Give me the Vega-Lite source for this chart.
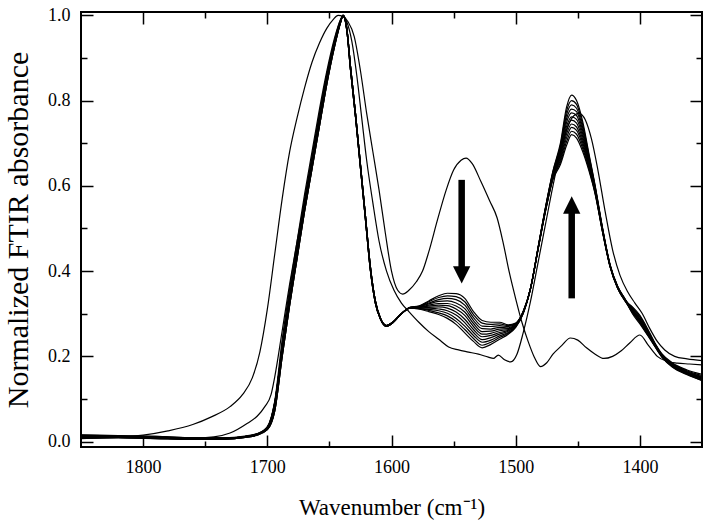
{
"$schema": "https://vega.github.io/schema/vega-lite/v6.json",
"width": 621, "height": 435,
"autosize": "none",
"padding": {"left": 81, "top": 12, "right": 12, "bottom": 81},
"background": "white",
"config": {
 "font": "'Liberation Serif', 'Times New Roman', serif",
 "view": {"stroke": "black", "strokeWidth": 2},
 "axis": {"grid": false, "domain": false, "tickColor": "black", "tickWidth": 1.5, "labelFont": "'Liberation Serif', 'Times New Roman', serif", "titleFont": "'Liberation Serif', 'Times New Roman', serif", "labelFontSize": 18, "labelColor": "black", "titleFontSize": 23, "titleFontWeight": "normal", "titleColor": "black", "labelOverlap": false, "labelFlush": false}
},
"datasets": {
"bundle": [
{"c":"k0","w":1850,"a":0.014},{"c":"k0","w":1820,"a":0.013},{"c":"k0","w":1790,"a":0.011},{"c":"k0","w":1760,"a":0.008},{"c":"k0","w":1735,"a":0.008},{"c":"k0","w":1718,"a":0.012},{"c":"k0","w":1708,"a":0.018},{"c":"k0","w":1700,"a":0.035},{"c":"k0","w":1694,"a":0.095},{"c":"k0","w":1688,"a":0.24},{"c":"k0","w":1682,"a":0.36},{"c":"k0","w":1676,"a":0.47},{"c":"k0","w":1670,"a":0.58},{"c":"k0","w":1664,"a":0.68},{"c":"k0","w":1658,"a":0.78},{"c":"k0","w":1652,"a":0.87},{"c":"k0","w":1646,"a":0.945},{"c":"k0","w":1641,"a":0.99},{"c":"k0","w":1639,"a":1.0},{"c":"k0","w":1636,"a":0.97},{"c":"k0","w":1633,"a":0.88},{"c":"k0","w":1629,"a":0.77},{"c":"k0","w":1625,"a":0.65},{"c":"k0","w":1621,"a":0.53},{"c":"k0","w":1617,"a":0.41},{"c":"k0","w":1613,"a":0.33},{"c":"k0","w":1609,"a":0.29},{"c":"k0","w":1604,"a":0.272},{"c":"k0","w":1599,"a":0.28},{"c":"k0","w":1592,"a":0.30},
{"c":"k0","w":1585,"a":0.315},{"c":"k0","w":1578,"a":0.318},{"c":"k0","w":1570,"a":0.330},{"c":"k0","w":1562,"a":0.342},{"c":"k0","w":1555,"a":0.348},{"c":"k0","w":1548,"a":0.347},{"c":"k0","w":1541,"a":0.336},{"c":"k0","w":1534,"a":0.305},{"c":"k0","w":1527,"a":0.284},{"c":"k0","w":1520,"a":0.280},{"c":"k0","w":1513,"a":0.280},{"c":"k0","w":1506,"a":0.274},{"c":"k0","w":1500,"a":0.278},{"c":"k0","w":1494,"a":0.305},{"c":"k0","w":1488,"a":0.360},{"c":"k0","w":1482,"a":0.450},{"c":"k0","w":1476,"a":0.540},{"c":"k0","w":1470,"a":0.615},{"c":"k0","w":1464,"a":0.650},{"c":"k0","w":1459,"a":0.695},{"c":"k0","w":1455,"a":0.720},{"c":"k0","w":1451,"a":0.712},{"c":"k0","w":1446,"a":0.680},{"c":"k0","w":1441,"a":0.635},{"c":"k0","w":1436,"a":0.580},{"c":"k0","w":1430,"a":0.490},{"c":"k0","w":1424,"a":0.410},{"c":"k0","w":1418,"a":0.360},{"c":"k0","w":1412,"a":0.330},{"c":"k0","w":1406,"a":0.316},{"c":"k0","w":1400,"a":0.296},{"c":"k0","w":1394,"a":0.266},{"c":"k0","w":1388,"a":0.232},{"c":"k0","w":1382,"a":0.205},{"c":"k0","w":1374,"a":0.185},{"c":"k0","w":1362,"a":0.168},{"c":"k0","w":1350,"a":0.158},
{"c":"k1","w":1850,"a":0.009},{"c":"k1","w":1820,"a":0.010},{"c":"k1","w":1790,"a":0.008},{"c":"k1","w":1760,"a":0.006},{"c":"k1","w":1735,"a":0.006},{"c":"k1","w":1718,"a":0.010},{"c":"k1","w":1708,"a":0.016},{"c":"k1","w":1700,"a":0.032},{"c":"k1","w":1694,"a":0.088},{"c":"k1","w":1688,"a":0.225},{"c":"k1","w":1682,"a":0.345},{"c":"k1","w":1676,"a":0.455},{"c":"k1","w":1670,"a":0.565},{"c":"k1","w":1664,"a":0.665},{"c":"k1","w":1658,"a":0.765},{"c":"k1","w":1652,"a":0.86},{"c":"k1","w":1646,"a":0.937},{"c":"k1","w":1641,"a":0.987},{"c":"k1","w":1639,"a":1.0},{"c":"k1","w":1636,"a":0.965},{"c":"k1","w":1633,"a":0.872},{"c":"k1","w":1629,"a":0.762},{"c":"k1","w":1625,"a":0.642},{"c":"k1","w":1621,"a":0.522},{"c":"k1","w":1617,"a":0.402},{"c":"k1","w":1613,"a":0.325},{"c":"k1","w":1609,"a":0.288},{"c":"k1","w":1604,"a":0.27},{"c":"k1","w":1599,"a":0.279},{"c":"k1","w":1592,"a":0.30},
{"c":"k1","w":1585,"a":0.315},{"c":"k1","w":1578,"a":0.317},{"c":"k1","w":1570,"a":0.328},{"c":"k1","w":1562,"a":0.338},{"c":"k1","w":1555,"a":0.342},{"c":"k1","w":1548,"a":0.340},{"c":"k1","w":1541,"a":0.328},{"c":"k1","w":1534,"a":0.298},{"c":"k1","w":1527,"a":0.278},{"c":"k1","w":1520,"a":0.275},{"c":"k1","w":1513,"a":0.276},{"c":"k1","w":1506,"a":0.272},{"c":"k1","w":1500,"a":0.277},{"c":"k1","w":1494,"a":0.305},{"c":"k1","w":1488,"a":0.36},{"c":"k1","w":1482,"a":0.451},{"c":"k1","w":1476,"a":0.541},{"c":"k1","w":1470,"a":0.617},{"c":"k1","w":1464,"a":0.655},{"c":"k1","w":1459,"a":0.704},{"c":"k1","w":1455,"a":0.728},{"c":"k1","w":1451,"a":0.721},{"c":"k1","w":1446,"a":0.687},{"c":"k1","w":1441,"a":0.639},{"c":"k1","w":1436,"a":0.582},{"c":"k1","w":1430,"a":0.491},{"c":"k1","w":1424,"a":0.410},{"c":"k1","w":1418,"a":0.360},{"c":"k1","w":1412,"a":0.330},{"c":"k1","w":1406,"a":0.306},{"c":"k1","w":1400,"a":0.285},{"c":"k1","w":1394,"a":0.257},{"c":"k1","w":1388,"a":0.226},{"c":"k1","w":1382,"a":0.200},{"c":"k1","w":1374,"a":0.180},{"c":"k1","w":1362,"a":0.162},{"c":"k1","w":1350,"a":0.151},
{"c":"k2","w":1850,"a":0.016},{"c":"k2","w":1820,"a":0.014},{"c":"k2","w":1790,"a":0.012},{"c":"k2","w":1760,"a":0.009},{"c":"k2","w":1735,"a":0.009},{"c":"k2","w":1718,"a":0.013},{"c":"k2","w":1708,"a":0.019},{"c":"k2","w":1700,"a":0.033},{"c":"k2","w":1694,"a":0.092},{"c":"k2","w":1688,"a":0.222},{"c":"k2","w":1682,"a":0.342},{"c":"k2","w":1676,"a":0.452},{"c":"k2","w":1670,"a":0.562},{"c":"k2","w":1664,"a":0.662},{"c":"k2","w":1658,"a":0.762},{"c":"k2","w":1652,"a":0.862},{"c":"k2","w":1646,"a":0.935},{"c":"k2","w":1641,"a":0.985},{"c":"k2","w":1639,"a":1.0},{"c":"k2","w":1636,"a":0.97},{"c":"k2","w":1633,"a":0.88},{"c":"k2","w":1629,"a":0.77},{"c":"k2","w":1625,"a":0.65},{"c":"k2","w":1621,"a":0.53},{"c":"k2","w":1617,"a":0.41},{"c":"k2","w":1613,"a":0.33},{"c":"k2","w":1609,"a":0.29},{"c":"k2","w":1604,"a":0.272},{"c":"k2","w":1599,"a":0.28},{"c":"k2","w":1592,"a":0.30},
{"c":"k2","w":1585,"a":0.315},{"c":"k2","w":1578,"a":0.317},{"c":"k2","w":1570,"a":0.325},{"c":"k2","w":1562,"a":0.333},{"c":"k2","w":1555,"a":0.336},{"c":"k2","w":1548,"a":0.333},{"c":"k2","w":1541,"a":0.320},{"c":"k2","w":1534,"a":0.291},{"c":"k2","w":1527,"a":0.271},{"c":"k2","w":1520,"a":0.270},{"c":"k2","w":1513,"a":0.272},{"c":"k2","w":1506,"a":0.270},{"c":"k2","w":1500,"a":0.276},{"c":"k2","w":1494,"a":0.304},{"c":"k2","w":1488,"a":0.36},{"c":"k2","w":1482,"a":0.451},{"c":"k2","w":1476,"a":0.542},{"c":"k2","w":1470,"a":0.619},{"c":"k2","w":1464,"a":0.660},{"c":"k2","w":1459,"a":0.713},{"c":"k2","w":1455,"a":0.737},{"c":"k2","w":1451,"a":0.730},{"c":"k2","w":1446,"a":0.694},{"c":"k2","w":1441,"a":0.643},{"c":"k2","w":1436,"a":0.584},{"c":"k2","w":1430,"a":0.492},{"c":"k2","w":1424,"a":0.411},{"c":"k2","w":1418,"a":0.361},{"c":"k2","w":1412,"a":0.331},{"c":"k2","w":1406,"a":0.312},{"c":"k2","w":1400,"a":0.292},{"c":"k2","w":1394,"a":0.262},{"c":"k2","w":1388,"a":0.229},{"c":"k2","w":1382,"a":0.203},{"c":"k2","w":1374,"a":0.183},{"c":"k2","w":1362,"a":0.166},{"c":"k2","w":1350,"a":0.155},
{"c":"k3","w":1850,"a":0.011},{"c":"k3","w":1820,"a":0.011},{"c":"k3","w":1790,"a":0.009},{"c":"k3","w":1760,"a":0.007},{"c":"k3","w":1735,"a":0.007},{"c":"k3","w":1718,"a":0.011},{"c":"k3","w":1708,"a":0.017},{"c":"k3","w":1700,"a":0.033},{"c":"k3","w":1694,"a":0.092},{"c":"k3","w":1688,"a":0.222},{"c":"k3","w":1682,"a":0.342},{"c":"k3","w":1676,"a":0.452},{"c":"k3","w":1670,"a":0.562},{"c":"k3","w":1664,"a":0.662},{"c":"k3","w":1658,"a":0.762},{"c":"k3","w":1652,"a":0.862},{"c":"k3","w":1646,"a":0.935},{"c":"k3","w":1641,"a":0.985},{"c":"k3","w":1639,"a":1.0},{"c":"k3","w":1636,"a":0.965},{"c":"k3","w":1633,"a":0.872},{"c":"k3","w":1629,"a":0.762},{"c":"k3","w":1625,"a":0.642},{"c":"k3","w":1621,"a":0.522},{"c":"k3","w":1617,"a":0.402},{"c":"k3","w":1613,"a":0.325},{"c":"k3","w":1609,"a":0.288},{"c":"k3","w":1604,"a":0.27},{"c":"k3","w":1599,"a":0.279},{"c":"k3","w":1592,"a":0.30},
{"c":"k3","w":1585,"a":0.314},{"c":"k3","w":1578,"a":0.316},{"c":"k3","w":1570,"a":0.323},{"c":"k3","w":1562,"a":0.329},{"c":"k3","w":1555,"a":0.330},{"c":"k3","w":1548,"a":0.325},{"c":"k3","w":1541,"a":0.312},{"c":"k3","w":1534,"a":0.284},{"c":"k3","w":1527,"a":0.265},{"c":"k3","w":1520,"a":0.264},{"c":"k3","w":1513,"a":0.268},{"c":"k3","w":1506,"a":0.267},{"c":"k3","w":1500,"a":0.275},{"c":"k3","w":1494,"a":0.304},{"c":"k3","w":1488,"a":0.36},{"c":"k3","w":1482,"a":0.452},{"c":"k3","w":1476,"a":0.543},{"c":"k3","w":1470,"a":0.621},{"c":"k3","w":1464,"a":0.665},{"c":"k3","w":1459,"a":0.722},{"c":"k3","w":1455,"a":0.745},{"c":"k3","w":1451,"a":0.738},{"c":"k3","w":1446,"a":0.701},{"c":"k3","w":1441,"a":0.647},{"c":"k3","w":1436,"a":0.586},{"c":"k3","w":1430,"a":0.493},{"c":"k3","w":1424,"a":0.411},{"c":"k3","w":1418,"a":0.361},{"c":"k3","w":1412,"a":0.331},{"c":"k3","w":1406,"a":0.302},{"c":"k3","w":1400,"a":0.281},{"c":"k3","w":1394,"a":0.254},{"c":"k3","w":1388,"a":0.224},{"c":"k3","w":1382,"a":0.199},{"c":"k3","w":1374,"a":0.178},{"c":"k3","w":1362,"a":0.160},{"c":"k3","w":1350,"a":0.148},
{"c":"k4","w":1850,"a":0.013},{"c":"k4","w":1820,"a":0.012},{"c":"k4","w":1790,"a":0.010},{"c":"k4","w":1760,"a":0.008},{"c":"k4","w":1735,"a":0.008},{"c":"k4","w":1718,"a":0.012},{"c":"k4","w":1708,"a":0.018},{"c":"k4","w":1700,"a":0.033},{"c":"k4","w":1694,"a":0.092},{"c":"k4","w":1688,"a":0.222},{"c":"k4","w":1682,"a":0.342},{"c":"k4","w":1676,"a":0.452},{"c":"k4","w":1670,"a":0.562},{"c":"k4","w":1664,"a":0.662},{"c":"k4","w":1658,"a":0.762},{"c":"k4","w":1652,"a":0.862},{"c":"k4","w":1646,"a":0.935},{"c":"k4","w":1641,"a":0.985},{"c":"k4","w":1639,"a":1.0},{"c":"k4","w":1636,"a":0.97},{"c":"k4","w":1633,"a":0.88},{"c":"k4","w":1629,"a":0.77},{"c":"k4","w":1625,"a":0.65},{"c":"k4","w":1621,"a":0.53},{"c":"k4","w":1617,"a":0.41},{"c":"k4","w":1613,"a":0.33},{"c":"k4","w":1609,"a":0.29},{"c":"k4","w":1604,"a":0.272},{"c":"k4","w":1599,"a":0.28},{"c":"k4","w":1592,"a":0.30},
{"c":"k4","w":1585,"a":0.314},{"c":"k4","w":1578,"a":0.315},{"c":"k4","w":1570,"a":0.320},{"c":"k4","w":1562,"a":0.324},{"c":"k4","w":1555,"a":0.324},{"c":"k4","w":1548,"a":0.318},{"c":"k4","w":1541,"a":0.304},{"c":"k4","w":1534,"a":0.277},{"c":"k4","w":1527,"a":0.258},{"c":"k4","w":1520,"a":0.259},{"c":"k4","w":1513,"a":0.264},{"c":"k4","w":1506,"a":0.265},{"c":"k4","w":1500,"a":0.274},{"c":"k4","w":1494,"a":0.303},{"c":"k4","w":1488,"a":0.36},{"c":"k4","w":1482,"a":0.452},{"c":"k4","w":1476,"a":0.544},{"c":"k4","w":1470,"a":0.623},{"c":"k4","w":1464,"a":0.670},{"c":"k4","w":1459,"a":0.731},{"c":"k4","w":1455,"a":0.754},{"c":"k4","w":1451,"a":0.747},{"c":"k4","w":1446,"a":0.708},{"c":"k4","w":1441,"a":0.651},{"c":"k4","w":1436,"a":0.588},{"c":"k4","w":1430,"a":0.494},{"c":"k4","w":1424,"a":0.412},{"c":"k4","w":1418,"a":0.362},{"c":"k4","w":1412,"a":0.332},{"c":"k4","w":1406,"a":0.310},{"c":"k4","w":1400,"a":0.288},{"c":"k4","w":1394,"a":0.260},{"c":"k4","w":1388,"a":0.230},{"c":"k4","w":1382,"a":0.202},{"c":"k4","w":1374,"a":0.182},{"c":"k4","w":1362,"a":0.164},{"c":"k4","w":1350,"a":0.153},
{"c":"k5","w":1850,"a":0.008},{"c":"k5","w":1820,"a":0.009},{"c":"k5","w":1790,"a":0.007},{"c":"k5","w":1760,"a":0.006},{"c":"k5","w":1735,"a":0.006},{"c":"k5","w":1718,"a":0.010},{"c":"k5","w":1708,"a":0.016},{"c":"k5","w":1700,"a":0.03},{"c":"k5","w":1694,"a":0.08},{"c":"k5","w":1688,"a":0.21},{"c":"k5","w":1682,"a":0.33},{"c":"k5","w":1676,"a":0.44},{"c":"k5","w":1670,"a":0.55},{"c":"k5","w":1664,"a":0.65},{"c":"k5","w":1658,"a":0.75},{"c":"k5","w":1652,"a":0.85},{"c":"k5","w":1646,"a":0.93},{"c":"k5","w":1641,"a":0.985},{"c":"k5","w":1639,"a":1.0},{"c":"k5","w":1636,"a":0.965},{"c":"k5","w":1633,"a":0.872},{"c":"k5","w":1629,"a":0.762},{"c":"k5","w":1625,"a":0.642},{"c":"k5","w":1621,"a":0.522},{"c":"k5","w":1617,"a":0.402},{"c":"k5","w":1613,"a":0.325},{"c":"k5","w":1609,"a":0.288},{"c":"k5","w":1604,"a":0.27},{"c":"k5","w":1599,"a":0.279},{"c":"k5","w":1592,"a":0.30},
{"c":"k5","w":1585,"a":0.314},{"c":"k5","w":1578,"a":0.315},{"c":"k5","w":1570,"a":0.318},{"c":"k5","w":1562,"a":0.320},{"c":"k5","w":1555,"a":0.319},{"c":"k5","w":1548,"a":0.311},{"c":"k5","w":1541,"a":0.296},{"c":"k5","w":1534,"a":0.270},{"c":"k5","w":1527,"a":0.252},{"c":"k5","w":1520,"a":0.254},{"c":"k5","w":1513,"a":0.260},{"c":"k5","w":1506,"a":0.263},{"c":"k5","w":1500,"a":0.273},{"c":"k5","w":1494,"a":0.303},{"c":"k5","w":1488,"a":0.36},{"c":"k5","w":1482,"a":0.453},{"c":"k5","w":1476,"a":0.545},{"c":"k5","w":1470,"a":0.625},{"c":"k5","w":1464,"a":0.675},{"c":"k5","w":1459,"a":0.740},{"c":"k5","w":1455,"a":0.762},{"c":"k5","w":1451,"a":0.756},{"c":"k5","w":1446,"a":0.715},{"c":"k5","w":1441,"a":0.655},{"c":"k5","w":1436,"a":0.590},{"c":"k5","w":1430,"a":0.495},{"c":"k5","w":1424,"a":0.412},{"c":"k5","w":1418,"a":0.362},{"c":"k5","w":1412,"a":0.332},{"c":"k5","w":1406,"a":0.305},{"c":"k5","w":1400,"a":0.279},{"c":"k5","w":1394,"a":0.252},{"c":"k5","w":1388,"a":0.225},{"c":"k5","w":1382,"a":0.200},{"c":"k5","w":1374,"a":0.179},{"c":"k5","w":1362,"a":0.160},{"c":"k5","w":1350,"a":0.147},
{"c":"k6","w":1850,"a":0.015},{"c":"k6","w":1820,"a":0.013},{"c":"k6","w":1790,"a":0.012},{"c":"k6","w":1760,"a":0.009},{"c":"k6","w":1735,"a":0.008},{"c":"k6","w":1718,"a":0.012},{"c":"k6","w":1708,"a":0.018},{"c":"k6","w":1700,"a":0.03},{"c":"k6","w":1694,"a":0.08},{"c":"k6","w":1688,"a":0.21},{"c":"k6","w":1682,"a":0.33},{"c":"k6","w":1676,"a":0.44},{"c":"k6","w":1670,"a":0.55},{"c":"k6","w":1664,"a":0.65},{"c":"k6","w":1658,"a":0.75},{"c":"k6","w":1652,"a":0.85},{"c":"k6","w":1646,"a":0.93},{"c":"k6","w":1641,"a":0.985},{"c":"k6","w":1639,"a":1.0},{"c":"k6","w":1636,"a":0.97},{"c":"k6","w":1633,"a":0.88},{"c":"k6","w":1629,"a":0.77},{"c":"k6","w":1625,"a":0.65},{"c":"k6","w":1621,"a":0.53},{"c":"k6","w":1617,"a":0.41},{"c":"k6","w":1613,"a":0.33},{"c":"k6","w":1609,"a":0.29},{"c":"k6","w":1604,"a":0.272},{"c":"k6","w":1599,"a":0.28},{"c":"k6","w":1592,"a":0.30},
{"c":"k6","w":1585,"a":0.314},{"c":"k6","w":1578,"a":0.314},{"c":"k6","w":1570,"a":0.315},{"c":"k6","w":1562,"a":0.316},{"c":"k6","w":1555,"a":0.313},{"c":"k6","w":1548,"a":0.304},{"c":"k6","w":1541,"a":0.287},{"c":"k6","w":1534,"a":0.263},{"c":"k6","w":1527,"a":0.246},{"c":"k6","w":1520,"a":0.249},{"c":"k6","w":1513,"a":0.256},{"c":"k6","w":1506,"a":0.261},{"c":"k6","w":1500,"a":0.272},{"c":"k6","w":1494,"a":0.302},{"c":"k6","w":1488,"a":0.36},{"c":"k6","w":1482,"a":0.453},{"c":"k6","w":1476,"a":0.546},{"c":"k6","w":1470,"a":0.627},{"c":"k6","w":1464,"a":0.680},{"c":"k6","w":1459,"a":0.749},{"c":"k6","w":1455,"a":0.771},{"c":"k6","w":1451,"a":0.765},{"c":"k6","w":1446,"a":0.722},{"c":"k6","w":1441,"a":0.659},{"c":"k6","w":1436,"a":0.592},{"c":"k6","w":1430,"a":0.496},{"c":"k6","w":1424,"a":0.413},{"c":"k6","w":1418,"a":0.363},{"c":"k6","w":1412,"a":0.333},{"c":"k6","w":1406,"a":0.314},{"c":"k6","w":1400,"a":0.293},{"c":"k6","w":1394,"a":0.263},{"c":"k6","w":1388,"a":0.229},{"c":"k6","w":1382,"a":0.203},{"c":"k6","w":1374,"a":0.181},{"c":"k6","w":1362,"a":0.163},{"c":"k6","w":1350,"a":0.151},
{"c":"k7","w":1850,"a":0.010},{"c":"k7","w":1820,"a":0.010},{"c":"k7","w":1790,"a":0.008},{"c":"k7","w":1760,"a":0.006},{"c":"k7","w":1735,"a":0.006},{"c":"k7","w":1718,"a":0.010},{"c":"k7","w":1708,"a":0.016},{"c":"k7","w":1700,"a":0.03},{"c":"k7","w":1694,"a":0.08},{"c":"k7","w":1688,"a":0.21},{"c":"k7","w":1682,"a":0.33},{"c":"k7","w":1676,"a":0.44},{"c":"k7","w":1670,"a":0.55},{"c":"k7","w":1664,"a":0.65},{"c":"k7","w":1658,"a":0.75},{"c":"k7","w":1652,"a":0.85},{"c":"k7","w":1646,"a":0.93},{"c":"k7","w":1641,"a":0.985},{"c":"k7","w":1639,"a":1.0},{"c":"k7","w":1636,"a":0.965},{"c":"k7","w":1633,"a":0.872},{"c":"k7","w":1629,"a":0.762},{"c":"k7","w":1625,"a":0.642},{"c":"k7","w":1621,"a":0.522},{"c":"k7","w":1617,"a":0.402},{"c":"k7","w":1613,"a":0.325},{"c":"k7","w":1609,"a":0.288},{"c":"k7","w":1604,"a":0.27},{"c":"k7","w":1599,"a":0.279},{"c":"k7","w":1592,"a":0.30},
{"c":"k7","w":1585,"a":0.314},{"c":"k7","w":1578,"a":0.313},{"c":"k7","w":1570,"a":0.313},{"c":"k7","w":1562,"a":0.311},{"c":"k7","w":1555,"a":0.307},{"c":"k7","w":1548,"a":0.297},{"c":"k7","w":1541,"a":0.279},{"c":"k7","w":1534,"a":0.256},{"c":"k7","w":1527,"a":0.239},{"c":"k7","w":1520,"a":0.244},{"c":"k7","w":1513,"a":0.252},{"c":"k7","w":1506,"a":0.259},{"c":"k7","w":1500,"a":0.271},{"c":"k7","w":1494,"a":0.302},{"c":"k7","w":1488,"a":0.36},{"c":"k7","w":1482,"a":0.454},{"c":"k7","w":1476,"a":0.547},{"c":"k7","w":1470,"a":0.629},{"c":"k7","w":1464,"a":0.685},{"c":"k7","w":1459,"a":0.758},{"c":"k7","w":1455,"a":0.780},{"c":"k7","w":1451,"a":0.774},{"c":"k7","w":1446,"a":0.729},{"c":"k7","w":1441,"a":0.663},{"c":"k7","w":1436,"a":0.594},{"c":"k7","w":1430,"a":0.497},{"c":"k7","w":1424,"a":0.413},{"c":"k7","w":1418,"a":0.363},{"c":"k7","w":1412,"a":0.333},{"c":"k7","w":1406,"a":0.303},{"c":"k7","w":1400,"a":0.283},{"c":"k7","w":1394,"a":0.255},{"c":"k7","w":1388,"a":0.226},{"c":"k7","w":1382,"a":0.198},{"c":"k7","w":1374,"a":0.177},{"c":"k7","w":1362,"a":0.159},{"c":"k7","w":1350,"a":0.146},
{"c":"k8","w":1850,"a":0.012},{"c":"k8","w":1820,"a":0.012},{"c":"k8","w":1790,"a":0.010},{"c":"k8","w":1760,"a":0.008},{"c":"k8","w":1735,"a":0.007},{"c":"k8","w":1718,"a":0.011},{"c":"k8","w":1708,"a":0.017},{"c":"k8","w":1700,"a":0.028},{"c":"k8","w":1694,"a":0.072},{"c":"k8","w":1688,"a":0.20},{"c":"k8","w":1682,"a":0.32},{"c":"k8","w":1676,"a":0.43},{"c":"k8","w":1670,"a":0.54},{"c":"k8","w":1664,"a":0.64},{"c":"k8","w":1658,"a":0.74},{"c":"k8","w":1652,"a":0.84},{"c":"k8","w":1646,"a":0.925},{"c":"k8","w":1641,"a":0.983},{"c":"k8","w":1639,"a":1.0},{"c":"k8","w":1636,"a":0.97},{"c":"k8","w":1633,"a":0.88},{"c":"k8","w":1629,"a":0.77},{"c":"k8","w":1625,"a":0.65},{"c":"k8","w":1621,"a":0.53},{"c":"k8","w":1617,"a":0.41},{"c":"k8","w":1613,"a":0.33},{"c":"k8","w":1609,"a":0.29},{"c":"k8","w":1604,"a":0.272},{"c":"k8","w":1599,"a":0.28},{"c":"k8","w":1592,"a":0.30},
{"c":"k8","w":1585,"a":0.313},{"c":"k8","w":1578,"a":0.312},{"c":"k8","w":1570,"a":0.310},{"c":"k8","w":1562,"a":0.307},{"c":"k8","w":1555,"a":0.301},{"c":"k8","w":1548,"a":0.289},{"c":"k8","w":1541,"a":0.271},{"c":"k8","w":1534,"a":0.249},{"c":"k8","w":1527,"a":0.233},{"c":"k8","w":1520,"a":0.238},{"c":"k8","w":1513,"a":0.248},{"c":"k8","w":1506,"a":0.256},{"c":"k8","w":1500,"a":0.270},{"c":"k8","w":1494,"a":0.301},{"c":"k8","w":1488,"a":0.36},{"c":"k8","w":1482,"a":0.454},{"c":"k8","w":1476,"a":0.548},{"c":"k8","w":1470,"a":0.631},{"c":"k8","w":1464,"a":0.690},{"c":"k8","w":1459,"a":0.767},{"c":"k8","w":1455,"a":0.790},{"c":"k8","w":1451,"a":0.782},{"c":"k8","w":1446,"a":0.736},{"c":"k8","w":1441,"a":0.667},{"c":"k8","w":1436,"a":0.596},{"c":"k8","w":1430,"a":0.498},{"c":"k8","w":1424,"a":0.414},{"c":"k8","w":1418,"a":0.364},{"c":"k8","w":1412,"a":0.334},{"c":"k8","w":1406,"a":0.309},{"c":"k8","w":1400,"a":0.287},{"c":"k8","w":1394,"a":0.258},{"c":"k8","w":1388,"a":0.228},{"c":"k8","w":1382,"a":0.201},{"c":"k8","w":1374,"a":0.180},{"c":"k8","w":1362,"a":0.162},{"c":"k8","w":1350,"a":0.149},
{"c":"k9","w":1850,"a":0.007},{"c":"k9","w":1820,"a":0.009},{"c":"k9","w":1790,"a":0.007},{"c":"k9","w":1760,"a":0.005},{"c":"k9","w":1735,"a":0.006},{"c":"k9","w":1718,"a":0.010},{"c":"k9","w":1708,"a":0.015},{"c":"k9","w":1700,"a":0.028},{"c":"k9","w":1694,"a":0.072},{"c":"k9","w":1688,"a":0.20},{"c":"k9","w":1682,"a":0.32},{"c":"k9","w":1676,"a":0.43},{"c":"k9","w":1670,"a":0.54},{"c":"k9","w":1664,"a":0.64},{"c":"k9","w":1658,"a":0.74},{"c":"k9","w":1652,"a":0.84},{"c":"k9","w":1646,"a":0.925},{"c":"k9","w":1641,"a":0.983},{"c":"k9","w":1639,"a":1.0},{"c":"k9","w":1636,"a":0.965},{"c":"k9","w":1633,"a":0.872},{"c":"k9","w":1629,"a":0.762},{"c":"k9","w":1625,"a":0.642},{"c":"k9","w":1621,"a":0.522},{"c":"k9","w":1617,"a":0.402},{"c":"k9","w":1613,"a":0.325},{"c":"k9","w":1609,"a":0.288},{"c":"k9","w":1604,"a":0.27},{"c":"k9","w":1599,"a":0.279},{"c":"k9","w":1592,"a":0.30},
{"c":"k9","w":1585,"a":0.313},{"c":"k9","w":1578,"a":0.312},{"c":"k9","w":1570,"a":0.308},{"c":"k9","w":1562,"a":0.302},{"c":"k9","w":1555,"a":0.295},{"c":"k9","w":1548,"a":0.282},{"c":"k9","w":1541,"a":0.263},{"c":"k9","w":1534,"a":0.242},{"c":"k9","w":1527,"a":0.226},{"c":"k9","w":1520,"a":0.233},{"c":"k9","w":1513,"a":0.244},{"c":"k9","w":1506,"a":0.254},{"c":"k9","w":1500,"a":0.269},{"c":"k9","w":1494,"a":0.301},{"c":"k9","w":1488,"a":0.36},{"c":"k9","w":1482,"a":0.455},{"c":"k9","w":1476,"a":0.549},{"c":"k9","w":1470,"a":0.633},{"c":"k9","w":1464,"a":0.695},{"c":"k9","w":1459,"a":0.776},{"c":"k9","w":1455,"a":0.800},{"c":"k9","w":1451,"a":0.791},{"c":"k9","w":1446,"a":0.743},{"c":"k9","w":1441,"a":0.671},{"c":"k9","w":1436,"a":0.598},{"c":"k9","w":1430,"a":0.499},{"c":"k9","w":1424,"a":0.414},{"c":"k9","w":1418,"a":0.364},{"c":"k9","w":1412,"a":0.334},{"c":"k9","w":1406,"a":0.300},{"c":"k9","w":1400,"a":0.276},{"c":"k9","w":1394,"a":0.250},{"c":"k9","w":1388,"a":0.223},{"c":"k9","w":1382,"a":0.197},{"c":"k9","w":1374,"a":0.175},{"c":"k9","w":1362,"a":0.157},{"c":"k9","w":1350,"a":0.144},
{"c":"k10","w":1850,"a":0.014},{"c":"k10","w":1820,"a":0.012},{"c":"k10","w":1790,"a":0.011},{"c":"k10","w":1760,"a":0.008},{"c":"k10","w":1735,"a":0.008},{"c":"k10","w":1718,"a":0.012},{"c":"k10","w":1708,"a":0.018},{"c":"k10","w":1700,"a":0.028},{"c":"k10","w":1694,"a":0.072},{"c":"k10","w":1688,"a":0.20},{"c":"k10","w":1682,"a":0.32},{"c":"k10","w":1676,"a":0.43},{"c":"k10","w":1670,"a":0.54},{"c":"k10","w":1664,"a":0.64},{"c":"k10","w":1658,"a":0.74},{"c":"k10","w":1652,"a":0.84},{"c":"k10","w":1646,"a":0.925},{"c":"k10","w":1641,"a":0.983},{"c":"k10","w":1639,"a":1.0},{"c":"k10","w":1636,"a":0.97},{"c":"k10","w":1633,"a":0.88},{"c":"k10","w":1629,"a":0.77},{"c":"k10","w":1625,"a":0.65},{"c":"k10","w":1621,"a":0.53},{"c":"k10","w":1617,"a":0.41},{"c":"k10","w":1613,"a":0.33},{"c":"k10","w":1609,"a":0.29},{"c":"k10","w":1604,"a":0.272},{"c":"k10","w":1599,"a":0.28},{"c":"k10","w":1592,"a":0.30},
{"c":"k10","w":1585,"a":0.313},{"c":"k10","w":1578,"a":0.311},{"c":"k10","w":1570,"a":0.305},{"c":"k10","w":1562,"a":0.298},{"c":"k10","w":1555,"a":0.289},{"c":"k10","w":1548,"a":0.275},{"c":"k10","w":1541,"a":0.255},{"c":"k10","w":1534,"a":0.235},{"c":"k10","w":1527,"a":0.220},{"c":"k10","w":1520,"a":0.228},{"c":"k10","w":1513,"a":0.240},{"c":"k10","w":1506,"a":0.252},{"c":"k10","w":1500,"a":0.268},{"c":"k10","w":1494,"a":0.300},{"c":"k10","w":1488,"a":0.36},{"c":"k10","w":1482,"a":0.455},{"c":"k10","w":1476,"a":0.550},{"c":"k10","w":1470,"a":0.635},{"c":"k10","w":1464,"a":0.700},{"c":"k10","w":1459,"a":0.785},{"c":"k10","w":1455,"a":0.813},{"c":"k10","w":1451,"a":0.800},{"c":"k10","w":1446,"a":0.750},{"c":"k10","w":1441,"a":0.675},{"c":"k10","w":1436,"a":0.600},{"c":"k10","w":1430,"a":0.500},{"c":"k10","w":1424,"a":0.415},{"c":"k10","w":1418,"a":0.365},{"c":"k10","w":1412,"a":0.335},{"c":"k10","w":1406,"a":0.308},{"c":"k10","w":1400,"a":0.280},{"c":"k10","w":1394,"a":0.252},{"c":"k10","w":1388,"a":0.228},{"c":"k10","w":1382,"a":0.198},{"c":"k10","w":1374,"a":0.176},{"c":"k10","w":1362,"a":0.158},{"c":"k10","w":1350,"a":0.143}
],
"others": [
{"c":"t0","w":1850,"a":0.008},{"c":"t0","w":1820,"a":0.010},{"c":"t0","w":1800,"a":0.015},{"c":"t0","w":1780,"a":0.025},{"c":"t0","w":1760,"a":0.04},{"c":"t0","w":1745,"a":0.058},{"c":"t0","w":1730,"a":0.082},{"c":"t0","w":1720,"a":0.11},{"c":"t0","w":1712,"a":0.15},{"c":"t0","w":1706,"a":0.21},{"c":"t0","w":1700,"a":0.31},{"c":"t0","w":1694,"a":0.44},{"c":"t0","w":1688,"a":0.57},{"c":"t0","w":1682,"a":0.68},{"c":"t0","w":1676,"a":0.76},{"c":"t0","w":1670,"a":0.83},{"c":"t0","w":1664,"a":0.89},{"c":"t0","w":1658,"a":0.935},{"c":"t0","w":1652,"a":0.97},{"c":"t0","w":1647,"a":0.99},{"c":"t0","w":1643,"a":1.0},{"c":"t0","w":1639,"a":0.997},{"c":"t0","w":1635,"a":0.985},{"c":"t0","w":1630,"a":0.95},{"c":"t0","w":1625,"a":0.87},{"c":"t0","w":1620,"a":0.77},{"c":"t0","w":1615,"a":0.68},{"c":"t0","w":1610,"a":0.59},{"c":"t0","w":1605,"a":0.49},{"c":"t0","w":1600,"a":0.40},{"c":"t0","w":1595,"a":0.355},{"c":"t0","w":1591,"a":0.346},{"c":"t0","w":1586,"a":0.355},{"c":"t0","w":1580,"a":0.375},{"c":"t0","w":1575,"a":0.40},{"c":"t0","w":1570,"a":0.445},{"c":"t0","w":1563,"a":0.52},{"c":"t0","w":1556,"a":0.59},{"c":"t0","w":1550,"a":0.637},{"c":"t0","w":1544,"a":0.66},{"c":"t0","w":1540,"a":0.665},{"c":"t0","w":1535,"a":0.652},{"c":"t0","w":1528,"a":0.61},{"c":"t0","w":1521,"a":0.565},{"c":"t0","w":1515,"a":0.525},{"c":"t0","w":1510,"a":0.465},{"c":"t0","w":1505,"a":0.395},{"c":"t0","w":1500,"a":0.335},{"c":"t0","w":1495,"a":0.28},{"c":"t0","w":1490,"a":0.235},{"c":"t0","w":1485,"a":0.198},{"c":"t0","w":1480,"a":0.176},{"c":"t0","w":1475,"a":0.185},{"c":"t0","w":1470,"a":0.205},{"c":"t0","w":1463,"a":0.225},{"c":"t0","w":1456,"a":0.243},{"c":"t0","w":1450,"a":0.238},{"c":"t0","w":1443,"a":0.22},{"c":"t0","w":1436,"a":0.205},{"c":"t0","w":1429,"a":0.195},{"c":"t0","w":1422,"a":0.2},{"c":"t0","w":1415,"a":0.213},{"c":"t0","w":1408,"a":0.232},{"c":"t0","w":1400,"a":0.25},{"c":"t0","w":1393,"a":0.225},{"c":"t0","w":1386,"a":0.2},{"c":"t0","w":1378,"a":0.188},{"c":"t0","w":1370,"a":0.184},{"c":"t0","w":1360,"a":0.182},{"c":"t0","w":1350,"a":0.18},
{"c":"b","w":1850,"a":0.011},{"c":"b","w":1820,"a":0.009},{"c":"b","w":1790,"a":0.008},{"c":"b","w":1765,"a":0.007},{"c":"b","w":1743,"a":0.011},{"c":"b","w":1730,"a":0.02},{"c":"b","w":1716,"a":0.043},{"c":"b","w":1708,"a":0.06},{"c":"b","w":1702,"a":0.082},{"c":"b","w":1697,"a":0.11},{"c":"b","w":1694,"a":0.152},{"c":"b","w":1688,"a":0.26},{"c":"b","w":1682,"a":0.37},{"c":"b","w":1676,"a":0.47},{"c":"b","w":1670,"a":0.565},{"c":"b","w":1664,"a":0.67},{"c":"b","w":1658,"a":0.77},{"c":"b","w":1652,"a":0.86},{"c":"b","w":1646,"a":0.94},{"c":"b","w":1641,"a":0.99},{"c":"b","w":1639,"a":1.0},{"c":"b","w":1636,"a":0.985},{"c":"b","w":1632,"a":0.94},{"c":"b","w":1628,"a":0.86},{"c":"b","w":1624,"a":0.76},{"c":"b","w":1620,"a":0.66},{"c":"b","w":1615,"a":0.56},{"c":"b","w":1610,"a":0.47},{"c":"b","w":1604,"a":0.40},{"c":"b","w":1598,"a":0.355},{"c":"b","w":1592,"a":0.325},{"c":"b","w":1586,"a":0.305},{"c":"b","w":1578,"a":0.28},{"c":"b","w":1570,"a":0.258},{"c":"b","w":1562,"a":0.24},{"c":"b","w":1554,"a":0.222},{"c":"b","w":1546,"a":0.215},{"c":"b","w":1538,"a":0.21},{"c":"b","w":1530,"a":0.205},{"c":"b","w":1522,"a":0.198},{"c":"b","w":1518,"a":0.195},{"c":"b","w":1514,"a":0.203},{"c":"b","w":1509,"a":0.192},{"c":"b","w":1504,"a":0.187},{"c":"b","w":1499,"a":0.205},{"c":"b","w":1494,"a":0.255},{"c":"b","w":1488,"a":0.33},{"c":"b","w":1482,"a":0.42},{"c":"b","w":1476,"a":0.51},{"c":"b","w":1470,"a":0.60},{"c":"b","w":1464,"a":0.68},{"c":"b","w":1458,"a":0.74},{"c":"b","w":1453,"a":0.765},{"c":"b","w":1449,"a":0.77},{"c":"b","w":1444,"a":0.755},{"c":"b","w":1439,"a":0.71},{"c":"b","w":1434,"a":0.64},{"c":"b","w":1428,"a":0.54},{"c":"b","w":1422,"a":0.45},{"c":"b","w":1416,"a":0.39},{"c":"b","w":1410,"a":0.352},{"c":"b","w":1404,"a":0.325},{"c":"b","w":1398,"a":0.30},{"c":"b","w":1392,"a":0.265},{"c":"b","w":1386,"a":0.235},{"c":"b","w":1380,"a":0.215},{"c":"b","w":1372,"a":0.2},{"c":"b","w":1362,"a":0.194},{"c":"b","w":1350,"a":0.19}
],
"arrows": [
{"dir":"down","w":1543.5,"y1":0.614,"y2":0.40,"hy":0.391},
{"dir":"up","w":1454.9,"y1":0.336,"y2":0.55,"hy":0.555}
]
},
"layer": [
{"data":{"name":"bundle"},
 "mark":{"type":"line","color":"black","strokeWidth":1.2,"interpolate":"monotone"},
 "encoding":{
  "x":{"field":"w","type":"quantitative","scale":{"domain":[1350,1850],"reverse":true,"nice":false,"zero":false},
       "axis":{"orient":"bottom","values":[1400,1500,1600,1700,1800],"format":"d","tickSize":-12,"labelPadding":23,"title":"Wavenumber (cm⁻¹)","titlePadding":20}},
  "y":{"field":"a","type":"quantitative","scale":{"domain":[-0.0127,1.0078],"nice":false,"zero":false},
       "axis":{"orient":"left","values":[0,0.2,0.4,0.6,0.8,1],"format":".1f","tickSize":-12,"labelPadding":23,"title":"Normalized FTIR absorbance","titleFontSize":30,"titlePadding":14}},
  "detail":{"field":"c","type":"nominal"}}},
{"data":{"name":"others"},
 "mark":{"type":"line","color":"black","strokeWidth":1.2,"interpolate":"monotone"},
 "encoding":{
  "x":{"field":"w","type":"quantitative","scale":{"domain":[1350,1850],"reverse":true,"nice":false,"zero":false},
       "axis":{"orient":"bottom","values":[1450,1550,1650,1750],"tickSize":-6,"labels":false,"title":null}},
  "y":{"field":"a","type":"quantitative","scale":{"domain":[-0.0127,1.0078],"nice":false,"zero":false},
       "axis":{"orient":"left","values":[0.1,0.3,0.5,0.7,0.9],"tickSize":-6,"labels":false,"title":null}},
  "detail":{"field":"c","type":"nominal"}}},
{"data":{"name":"arrows"},
 "mark":{"type":"rule","color":"black","strokeWidth":6.5},
 "encoding":{
  "x":{"field":"w","type":"quantitative","scale":{"domain":[1350,1850],"reverse":true,"nice":false,"zero":false},
       "axis":{"orient":"top","values":[1400,1500,1600,1700,1800],"tickSize":-12,"labels":false,"title":null}},
  "y":{"field":"y1","type":"quantitative","scale":{"domain":[-0.0127,1.0078],"nice":false,"zero":false},
       "axis":{"orient":"right","values":[0,0.2,0.4,0.6,0.8,1],"tickSize":-12,"labels":false,"title":null}},
  "y2":{"field":"y2"}}},
{"data":{"name":"arrows"},
 "mark":{"type":"point","filled":true,"color":"black","opacity":1,"size":300,"strokeWidth":0},
 "encoding":{
  "x":{"field":"w","type":"quantitative","scale":{"domain":[1350,1850],"reverse":true,"nice":false,"zero":false},
       "axis":{"orient":"top","values":[1450,1550,1650,1750],"tickSize":-6,"labels":false,"title":null}},
  "y":{"field":"hy","type":"quantitative","scale":{"domain":[-0.0127,1.0078],"nice":false,"zero":false},
       "axis":{"orient":"right","values":[0.1,0.3,0.5,0.7,0.9],"tickSize":-6,"labels":false,"title":null}},
  "shape":{"field":"dir","type":"nominal","scale":{"domain":["down","up"],"range":["M-1,-1L1,-1L0,1Z","M-1,1L1,1L0,-1Z"]},"legend":null}}}
],
"resolve":{"axis":{"x":"independent","y":"independent"}}
}
